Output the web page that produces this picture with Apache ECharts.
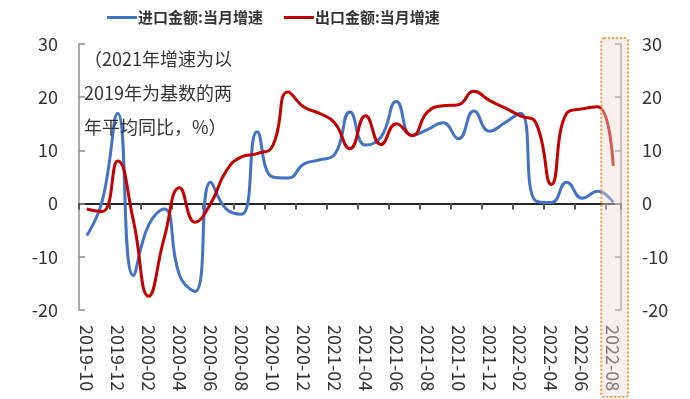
<!DOCTYPE html>
<html>
<head>
<meta charset="utf-8">
<script src="https://cdn.jsdelivr.net/npm/echarts/dist/echarts.min.js"></script>
<style>
  html, body { margin: 0; padding: 0; background: #fff; }
  #chart { width: 690px; height: 399px; }
</style>
</head>
<body>
<div id="chart"></div>
<script>
const months = [
  "2019-10", "2019-11", "2019-12",
  "2020-01", "2020-02", "2020-03", "2020-04", "2020-05", "2020-06",
  "2020-07", "2020-08", "2020-09", "2020-10", "2020-11", "2020-12",
  "2021-01", "2021-02", "2021-03", "2021-04", "2021-05", "2021-06",
  "2021-07", "2021-08", "2021-09", "2021-10", "2021-11", "2021-12",
  "2022-01", "2022-02", "2022-03", "2022-04", "2022-05", "2022-06",
  "2022-07", "2022-08"
];

// 进口金额:当月增速
const importGrowth = [
  -6, 0.5, 17, -13.5, -4, -1, -13.5, -16.5, 4,
  -1, -2, 13.5, 5, 4.8, 7.4, 8.2, 9.2, 17.2,
  11, 12.5, 19.2, 12.8, 13.9, 15.2, 12.2, 17.4, 13.6,
  15.2, 17, 0.5, 0.2, 4, 1, 2.3, 0.2
];

// 出口金额:当月增速
const exportGrowth = [
  -1, -1.5, 8, -3, -17.4, -6.5, 3, -3.5, 0,
  6.1, 8.8, 9.4, 10.8, 21, 18.2, 17, 15.2, 10.3,
  16.5, 11.1, 15, 12.8, 17.2, 18.4, 18.6, 21.1, 19.4,
  18, 16.5, 15.2, 3.6, 17, 17.8, 18.2, 7.1
];

const yMin = -20;
const yMax = 30;
const yStep = 10;

const noteLines = ["（2021年增速为以", "2019年为基数的两", "年平均同比，%）"];
const highlightMonth = "2022-08";

const FONT = "Noto Sans CJK SC";
const chart = echarts.init(document.getElementById("chart"));

const valueAxis = (position) => ({
  type: "value",
  position,
  min: yMin,
  max: yMax,
  interval: yStep,
  axisLine: { show: true, lineStyle: { color: "#8c8c8c", width: 1.5 } },
  axisTick: { show: true, inside: true, length: 6, lineStyle: { color: "#8c8c8c", width: 1.5 } },
  splitLine: { show: false },
  axisLabel: { color: "#333", fontSize: 18, fontFamily: FONT, margin: 21 }
});

chart.setOption({
  animation: false,
  backgroundColor: "#fff",
  textStyle: { fontFamily: FONT },
  legend: {
    left: 107,
    top: 10,
    padding: 0,
    itemWidth: 30,
    itemHeight: 3,
    itemGap: 21,
    icon: "rect",
    textStyle: {
      fontSize: 15,
      fontWeight: "bold",
      color: "#333",
      fontFamily: FONT,
      padding: [0, 0, 0, -4]
    },
    data: ["进口金额:当月增速", "出口金额:当月增速"]
  },
  grid: { left: 79, right: 69, top: 44, bottom: 89 },
  xAxis: [
    {
      type: "category",
      data: months,
      position: "bottom",
      boundaryGap: true,
      axisLine: { show: false, onZero: false },
      axisTick: { show: false },
      axisLabel: {
        interval: 1,
        rotate: -90,
        fontSize: 18,
        color: "#333",
        fontFamily: FONT,
        margin: 15
      }
    },
    {
      // zero line with ticks
      type: "category",
      data: months,
      position: "bottom",
      boundaryGap: true,
      axisLine: { show: true, onZero: true, onZeroAxisIndex: 0, lineStyle: { color: "#262626", width: 2 } },
      axisTick: { show: true, interval: 1, length: 6, lineStyle: { color: "#555", width: 2 } },
      axisLabel: { show: false }
    }
  ],
  yAxis: [valueAxis("left"), valueAxis("right")],
  series: [
    {
      name: "进口金额:当月增速",
      type: "line",
      smooth: true,
      symbol: "none",
      xAxisIndex: 0,
      yAxisIndex: 0,
      lineStyle: { color: "#4472C4", width: 3 },
      itemStyle: { color: "#4472C4" },
      data: importGrowth
    },
    {
      name: "出口金额:当月增速",
      type: "line",
      smooth: true,
      symbol: "none",
      xAxisIndex: 0,
      yAxisIndex: 0,
      lineStyle: { color: "#C00000", width: 3 },
      itemStyle: { color: "#C00000" },
      data: exportGrowth
    }
  ]
});

// 注释文字和最后一个月的高亮框
const cx = chart.convertToPixel({ xAxisIndex: 0 }, highlightMonth);
const topY = chart.convertToPixel({ yAxisIndex: 0 }, yMax);

chart.setOption({
  graphic: [
    {
      type: "text",
      left: 84,
      top: 42,
      z: 10,
      style: {
        text: noteLines.join("\n"),
        fontSize: 18,
        lineHeight: 34,
        fill: "#333",
        fontFamily: FONT
      }
    },
    {
      type: "rect",
      z: 100,
      shape: { x: cx - 12, y: topY - 6, width: 27, height: 397 - (topY - 6), r: 3 },
      style: {
        fill: "rgba(240, 218, 210, 0.42)",
        stroke: "#F79646",
        lineWidth: 2,
        lineDash: [2, 2]
      }
    }
  ]
});

window.addEventListener("resize", () => chart.resize());
</script>
</body>
</html>
